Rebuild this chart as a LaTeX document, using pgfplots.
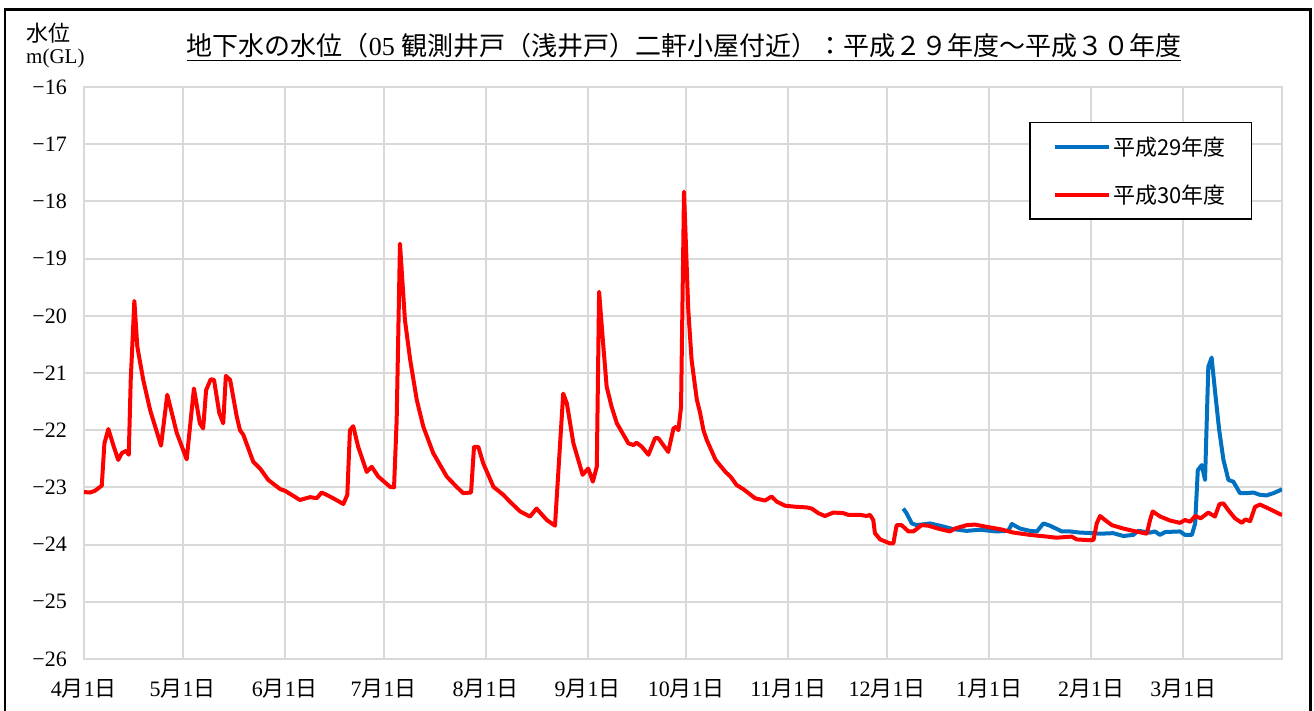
\documentclass[border=0pt]{standalone}
\usepackage{fontspec}
\setmainfont{Liberation Serif}
\newfontfamily\cjk{Noto Sans CJK JP}
\usepackage{pgfplots}
\pgfplotsset{compat=1.18}
\usepackage{pgfplotstable}

\definecolor{h29}{HTML}{0070C0}
\definecolor{h30}{HTML}{FF0000}
\definecolor{gridgray}{HTML}{D9D9D9}

% day 0 = 4/1
\pgfplotstableread{
day val
248.9 -23.37
249.9 -23.45
251.5 -23.63
253.0 -23.66
257.0 -23.63
260.1 -23.67
264.1 -23.73
268.2 -23.76
272.2 -23.74
277.3 -23.77
280.8 -23.76
281.9 -23.64
284.4 -23.72
287.4 -23.76
289.5 -23.77
291.5 -23.63
293.5 -23.67
297.1 -23.77
299.6 -23.77
302.6 -23.79
306.7 -23.80
308.7 -23.81
312.7 -23.80
315.8 -23.85
318.8 -23.83
320.3 -23.76
323.9 -23.79
325.4 -23.77
326.9 -23.83
328.5 -23.78
333.0 -23.77
334.5 -23.83
336.6 -23.83
337.6 -23.63
338.4 -22.70
339.6 -22.61
340.6 -22.87
341.6 -20.89
342.6 -20.73
343.6 -21.30
344.9 -22.00
346.2 -22.52
347.7 -22.87
349.2 -22.90
351.2 -23.10
353.3 -23.10
355.3 -23.09
357.3 -23.13
359.3 -23.14
361.4 -23.10
363.4 -23.05
364.0 -23.03
}\hdouble

\pgfplotstableread{
day val
0 -23.08
1.8 -23.09
3.3 -23.06
5.4 -22.97
6.2 -22.23
7.4 -21.98
8.9 -22.26
10.4 -22.52
11.5 -22.40
12.8 -22.36
13.6 -22.43
14.2 -21.12
15.3 -19.74
16.2 -20.54
18.0 -21.12
20.1 -21.65
23.4 -22.27
25.3 -21.38
28.2 -22.05
31.2 -22.51
33.4 -21.27
35.2 -21.88
36.2 -21.97
37.1 -21.30
38.5 -21.11
39.5 -21.12
41.1 -21.70
42.3 -21.88
43.1 -21.05
44.4 -21.12
46.4 -21.76
47.4 -22.00
48.4 -22.08
51.4 -22.55
53.5 -22.67
56.0 -22.87
59.6 -23.03
61.1 -23.06
65.6 -23.22
68.7 -23.17
70.7 -23.19
72.2 -23.09
73.7 -23.13
75.7 -23.19
78.8 -23.29
80.0 -23.13
80.8 -22.00
81.8 -21.93
83.3 -22.29
85.9 -22.73
87.4 -22.64
89.4 -22.81
93.0 -22.99
94.2 -23.00
95.0 -21.82
96.0 -18.74
97.5 -20.07
99.1 -20.77
101.1 -21.47
103.1 -21.94
106.1 -22.40
110.2 -22.81
113.2 -22.99
115.2 -23.10
117.6 -23.09
118.5 -22.29
119.8 -22.29
121.3 -22.58
124.4 -22.99
127.4 -23.13
129.4 -23.25
132.5 -23.42
135.5 -23.51
137.5 -23.37
140.6 -23.57
143.1 -23.67
145.6 -21.36
146.7 -21.53
148.7 -22.23
151.5 -22.78
153.2 -22.67
154.6 -22.90
155.8 -22.64
156.5 -19.58
157.8 -20.54
158.8 -21.24
160.3 -21.59
161.9 -21.88
165.4 -22.23
166.9 -22.26
167.9 -22.22
169.5 -22.29
171.5 -22.43
173.5 -22.14
174.5 -22.14
177.5 -22.38
179.1 -21.97
179.9 -21.94
180.6 -22.00
181.4 -21.59
182.3 -17.83
183.6 -19.90
184.6 -20.77
186.2 -21.47
187.2 -21.70
188.2 -22.00
189.2 -22.17
191.9 -22.52
194.9 -22.73
196.4 -22.81
198.3 -22.96
200.3 -23.03
203.9 -23.19
206.9 -23.23
208.9 -23.16
210.5 -23.25
213.0 -23.32
216.5 -23.34
219.6 -23.35
221.1 -23.37
223.1 -23.45
225.1 -23.50
227.7 -23.44
230.7 -23.45
232.2 -23.48
235.8 -23.48
237.8 -23.50
238.8 -23.48
239.8 -23.57
240.3 -23.80
241.9 -23.91
244.9 -23.98
245.9 -23.98
246.9 -23.66
248.4 -23.66
250.5 -23.77
252.0 -23.77
254.5 -23.66
256.5 -23.67
260.1 -23.73
263.1 -23.77
264.6 -23.72
268.2 -23.66
270.7 -23.65
274.3 -23.69
278.3 -23.73
282.4 -23.79
287.4 -23.83
292.5 -23.86
295.5 -23.88
300.1 -23.86
301.6 -23.91
304.6 -23.92
306.7 -23.92
307.7 -23.63
308.7 -23.50
310.2 -23.57
312.3 -23.66
315.8 -23.72
318.8 -23.76
322.9 -23.81
323.9 -23.57
324.7 -23.42
327.0 -23.51
330.0 -23.58
333.0 -23.62
334.5 -23.57
336.1 -23.60
337.6 -23.50
339.3 -23.54
341.6 -23.44
343.6 -23.51
345.0 -23.29
346.2 -23.28
347.7 -23.40
349.7 -23.54
351.8 -23.62
352.8 -23.56
354.3 -23.59
355.8 -23.34
357.3 -23.30
360.3 -23.38
363.4 -23.47
364.0 -23.48
}\hthirty

\newcommand\md[1]{#1{\cjk 月}1{\cjk 日}}

\begin{document}
\begin{tikzpicture}[x=1pt,y=1pt]
\useasboundingbox (0,0) rectangle (1314,711);
\begin{axis}[
    at={(84pt,52pt)}, anchor=south west,
    scale only axis, width=1198pt, height=572pt,
    xmin=0, xmax=364, ymin=-26, ymax=-16,
    xtick={0,30,61,91,122,153,183,214,244,275,306,334,364},
    xticklabels={\md4,\md5,\md6,\md7,\md8,\md9,\md{10},\md{11},\md{12},\md1,\md2,\md3,},
    ytick={-26,-25,...,-16},
    yticklabels={−26,−25,−24,−23,−22,−21,−20,−19,−18,−17,−16},
    grid=major,
    major grid style={gridgray, line width=2pt},
    axis line style={gridgray, line width=2pt},
    major tick length=0pt,
    tick label style={font=\fontsize{22}{24}\selectfont},
    xticklabel style={anchor=center, yshift=-30pt},
    yticklabel style={anchor=east, inner sep=0pt, xshift=-17pt},
    legend style={at={(0.975,0.939)}, anchor=north east, draw=black,
        line width=1.5pt, font=\fontsize{22}{24}\selectfont\cjk,
        inner xsep=23.5pt, inner ysep=12pt, row sep=24pt},
    legend cell align=left,
    legend image code/.code={\draw[#1, line width=4pt] (0pt,0pt) -- (54pt,0pt);},
]
\addplot[h29, line width=4pt, line join=round] table[x=day, y=val] {\hdouble};
\addlegendentry{平成29年度}
\addplot[h30, line width=4pt, line join=round] table[x=day, y=val] {\hthirty};
\addlegendentry{平成30年度}
\end{axis}
\node[anchor=west, inner sep=0pt, font=\fontsize{22}{24}\selectfont\cjk] at (26,678) {水位};
\node[anchor=west, inner sep=0pt, font=\fontsize{21}{23}\selectfont] at (26,653) {m(GL)};
\node[inner sep=0pt, font=\fontsize{26}{28}\selectfont] at (684,664)
  {\underline{{\cjk 地下水の水位（}05 {\cjk 観測井戸（浅井戸）二軒小屋付近）：平成２９年度～平成３０年度}}};
\draw[line width=2.6pt] (5,-20) -- (5,701.5) -- (1310.5,701.5) -- (1310.5,-20);
\end{tikzpicture}
\end{document}
